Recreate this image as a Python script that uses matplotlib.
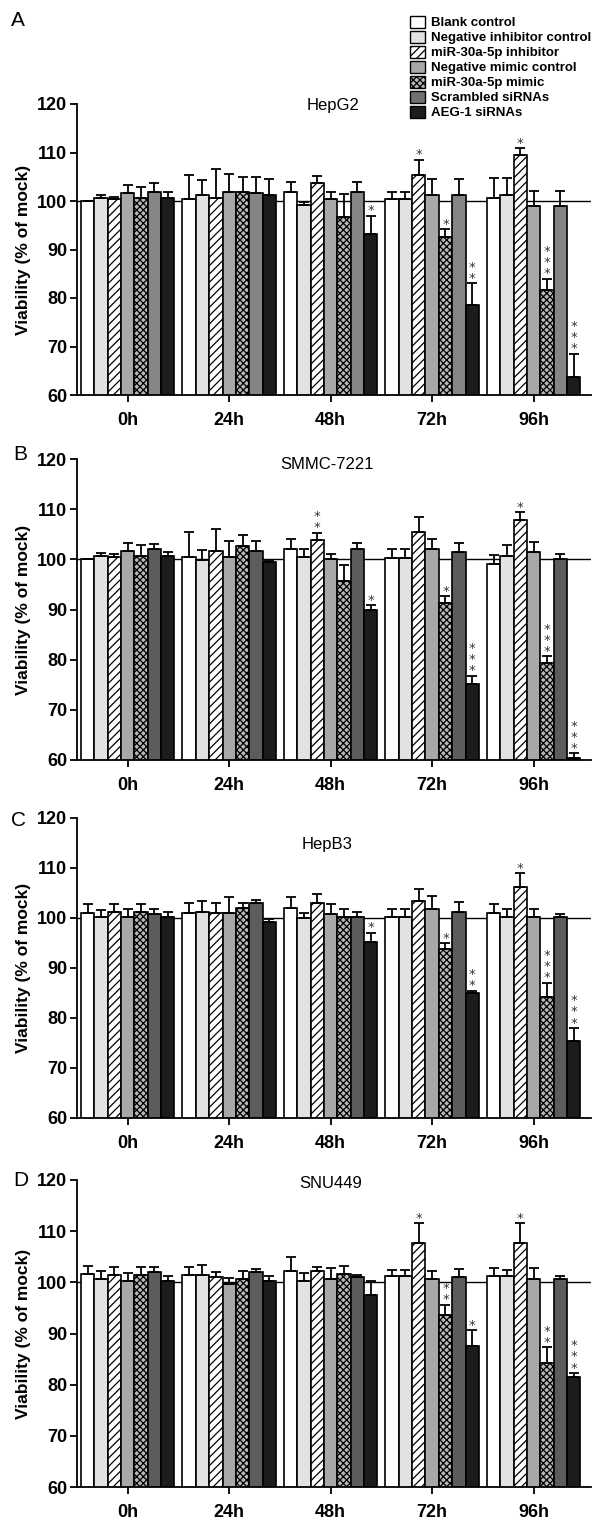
import matplotlib
matplotlib.use('Agg')
from matplotlib import pyplot as plt
from matplotlib.patches import Patch
import numpy as np

plt.rcParams['font.family'] = ['Liberation Sans', 'DejaVu Sans']
plt.rcParams['hatch.linewidth'] = 0.9

times = ['0h', '24h', '48h', '72h', '96h']
groups = ['Blank control', 'Negative inhibitor control', 'miR-30a-5p inhibitor',
          'Negative mimic control', 'miR-30a-5p mimic', 'Scrambled siRNAs',
          'AEG-1 siRNAs']

# one row per time point, 7 groups per row
hepg2_mean = [[100.0, 100.7, 100.35, 101.6, 100.7, 101.9, 100.7],
              [100.35, 101.3, 100.7, 101.9, 101.9, 101.65, 101.3],
              [101.9, 99.2, 103.7, 100.35, 96.7, 101.9, 93.1],
              [100.35, 100.35, 105.4, 101.3, 92.6, 101.3, 78.5],
              [100.7, 101.3, 109.4, 99.0, 81.7, 99.0, 63.8]]
hepg2_err = [[0.0, 0.55, 0.55, 1.6, 2.1, 1.8, 1.2],
             [5.0, 3.1, 5.9, 3.6, 3.1, 3.2, 3.3],
             [2.0, 0.5, 1.5, 1.5, 4.7, 2.1, 3.9],
             [1.5, 1.5, 3.1, 3.2, 1.6, 3.2, 4.5],
             [4.0, 3.4, 1.45, 3.1, 2.3, 3.1, 4.7]]
hepg2_stars = [[0, 0, 0, 0, 0, 0, 0],
               [0, 0, 0, 0, 0, 0, 0],
               [0, 0, 0, 0, 0, 0, 1],
               [0, 0, 1, 0, 1, 0, 2],
               [0, 0, 1, 0, 3, 0, 3]]

smmc_mean = [[100.0, 100.7, 100.4, 101.7, 100.7, 102.0, 100.7],
             [100.4, 99.8, 101.7, 100.4, 102.7, 101.7, 99.5],
             [102.0, 100.4, 103.8, 100.0, 95.7, 102.1, 90.0],
             [100.2, 100.2, 105.5, 102.0, 91.3, 101.4, 75.1],
             [99.1, 100.7, 107.9, 101.4, 79.4, 100.0, 60.4]]
smmc_err = [[0.0, 0.6, 0.6, 1.5, 2.1, 1.1, 0.8],
            [5.0, 2.0, 4.3, 3.3, 2.1, 1.9, 0.3],
            [2.1, 1.7, 1.5, 1.1, 3.1, 1.1, 0.9],
            [1.8, 1.8, 3.0, 2.1, 1.4, 1.8, 1.7],
            [1.7, 2.1, 1.5, 2.1, 1.3, 1.1, 0.9]]
smmc_stars = [[0, 0, 0, 0, 0, 0, 0],
              [0, 0, 0, 0, 0, 0, 0],
              [0, 0, 2, 0, 0, 0, 1],
              [0, 0, 0, 0, 1, 0, 3],
              [0, 0, 1, 0, 3, 0, 3]]

hepb3_mean = [[101.0, 100.3, 101.3, 100.3, 101.3, 100.7, 100.3],
              [101.0, 101.3, 101.0, 101.0, 102.0, 103.0, 99.3],
              [102.0, 100.0, 103.0, 100.7, 100.3, 100.3, 95.3],
              [100.3, 100.3, 103.3, 101.7, 93.7, 101.3, 85.0],
              [101.0, 100.3, 106.1, 100.3, 84.3, 100.3, 75.5]]
hepb3_err = [[1.7, 1.2, 1.5, 1.5, 1.5, 1.1, 0.9],
             [2.0, 2.1, 2.0, 3.1, 1.0, 0.5, 0.4],
             [2.1, 1.0, 1.8, 2.1, 1.5, 0.9, 1.8],
             [1.5, 1.5, 2.4, 2.7, 1.2, 1.8, 0.5],
             [1.7, 1.5, 2.9, 1.5, 2.8, 0.6, 2.5]]
hepb3_stars = [[0, 0, 0, 0, 0, 0, 0],
               [0, 0, 0, 0, 0, 0, 0],
               [0, 0, 0, 0, 0, 0, 1],
               [0, 0, 0, 0, 1, 0, 2],
               [0, 0, 1, 0, 3, 0, 3]]

snu_mean = [[101.6, 100.65, 101.4, 100.3, 101.4, 102.0, 100.3],
            [101.4, 101.4, 101.0, 99.7, 100.65, 102.0, 100.3],
            [102.3, 100.3, 102.3, 100.6, 101.6, 101.0, 97.6],
            [101.3, 101.3, 107.6, 100.6, 93.6, 101.0, 87.5],
            [101.3, 101.2, 107.6, 100.6, 84.2, 100.6, 81.5]]
snu_err = [[1.6, 1.5, 1.5, 1.6, 1.5, 1.0, 0.9],
           [1.5, 2.0, 1.0, 1.1, 1.5, 0.65, 0.9],
           [2.6, 1.5, 0.65, 2.2, 1.6, 0.5, 2.6],
           [1.2, 1.2, 3.9, 1.6, 2.0, 1.6, 3.1],
           [1.5, 1.3, 3.9, 2.2, 3.1, 0.6, 0.8]]
snu_stars = [[0, 0, 0, 0, 0, 0, 0],
             [0, 0, 0, 0, 0, 0, 0],
             [0, 0, 0, 0, 0, 0, 0],
             [0, 0, 1, 0, 2, 0, 1],
             [0, 0, 1, 0, 2, 0, 3]]

colors = ['white', '#e2e2e2', 'white', '#a8a8a8', '#b8b8b8', '#707070', '#1c1c1c']
hatches = [None, None, '////', None, 'xxxxx', None, None]
# scrambled siRNA bars are a bit lighter in panel A
scr_colors = ['#858585', '#5c5c5c', '#5c5c5c', '#5c5c5c']

panels = [('A', 'HepG2', hepg2_mean, hepg2_err, hepg2_stars),
          ('B', 'SMMC-7221', smmc_mean, smmc_err, smmc_stars),
          ('C', 'HepB3', hepb3_mean, hepb3_err, hepb3_stars),
          ('D', 'SNU449', snu_mean, snu_err, snu_stars)]

# axes boxes in pixels: (top, bottom), title pos in data coords, letter pos in pixels
boxes = [(104, 395), (459, 760), (818, 1118), (1180, 1487)]
title_pos = [(18.9, 119.7), (18.4, 119.0), (18.4, 114.6), (18.7, 119.4)]
letter_pos = [(18, 20), (20, 455), (18, 821), (21, 1180)]

W, H = 600, 1525
fig = plt.figure(figsize=(W / 100, H / 100), dpi=100)
left_px, right_px = 77, 591
pitch = 7.6

for k, (letter, name, mean, err, stars) in enumerate(panels):
    top, bot = boxes[k]
    ax = fig.add_axes([left_px / W, 1 - bot / H, (right_px - left_px) / W, (bot - top) / H])
    mean = np.array(mean)
    err = np.array(err)
    ax.axhline(100, color='black', lw=1.0, zorder=1)
    for j in range(7):
        xs = np.arange(5) * pitch + j + 0.5
        c = scr_colors[k] if j == 5 else colors[j]
        ax.bar(xs, mean[:, j], width=1.0, color=c, edgecolor='black',
               hatch=hatches[j], linewidth=1.2, zorder=2)
        ax.errorbar(xs, mean[:, j], yerr=[np.zeros(5), err[:, j]], fmt='none',
                    ecolor='black', elinewidth=1.3, capsize=3.5, capthick=1.3, zorder=3)
        for g in range(5):
            for s in range(stars[g][j]):
                ax.annotate('*', xy=(xs[g], mean[g, j] + err[g, j]),
                            xytext=(0, 1 + s * 8), textcoords='offset points',
                            ha='center', va='baseline', fontsize=9.5,
                            color='#333333', family='DejaVu Sans')
    ax.set_xlim(-0.3, 4 * pitch + 7 + 0.8)
    ax.set_ylim(60, 120)
    ax.set_yticks(np.arange(60, 121, 10))
    ax.set_xticks(np.arange(5) * pitch + 3.5)
    ax.set_xticklabels(times)
    for lab in ax.get_xticklabels() + ax.get_yticklabels():
        lab.set_fontweight('bold')
        lab.set_fontsize(13)
    ax.tick_params(axis='x', length=5, width=1.3, pad=7)
    ax.tick_params(axis='y', length=5, width=1.3, pad=2)
    ax.spines['top'].set_visible(False)
    ax.spines['right'].set_visible(False)
    ax.spines['left'].set_linewidth(1.3)
    ax.spines['bottom'].set_linewidth(1.3)
    ax.set_ylabel('Viability (% of mock)', fontsize=12.5, fontweight='bold')
    ax.yaxis.set_label_coords(-0.09, 0.5)
    ax.text(title_pos[k][0], title_pos[k][1], name, ha='center', va='center', fontsize=12)
    fig.text(letter_pos[k][0] / W, 1 - letter_pos[k][1] / H, letter,
             ha='center', va='center', fontsize=15)

handles = [Patch(facecolor=colors[j], edgecolor='black', hatch=hatches[j], linewidth=1.0)
           for j in range(7)]
leg = fig.legend(handles, groups, loc='upper left', bbox_to_anchor=(410 / W, 1 - 16 / H),
                 frameon=False, prop={'weight': 'bold', 'size': 9.5},
                 handlelength=1.1, handleheight=1.0, handletextpad=0.5,
                 labelspacing=0.12, borderpad=0, borderaxespad=0)

fig.savefig('out.png', dpi=100, facecolor='white')
